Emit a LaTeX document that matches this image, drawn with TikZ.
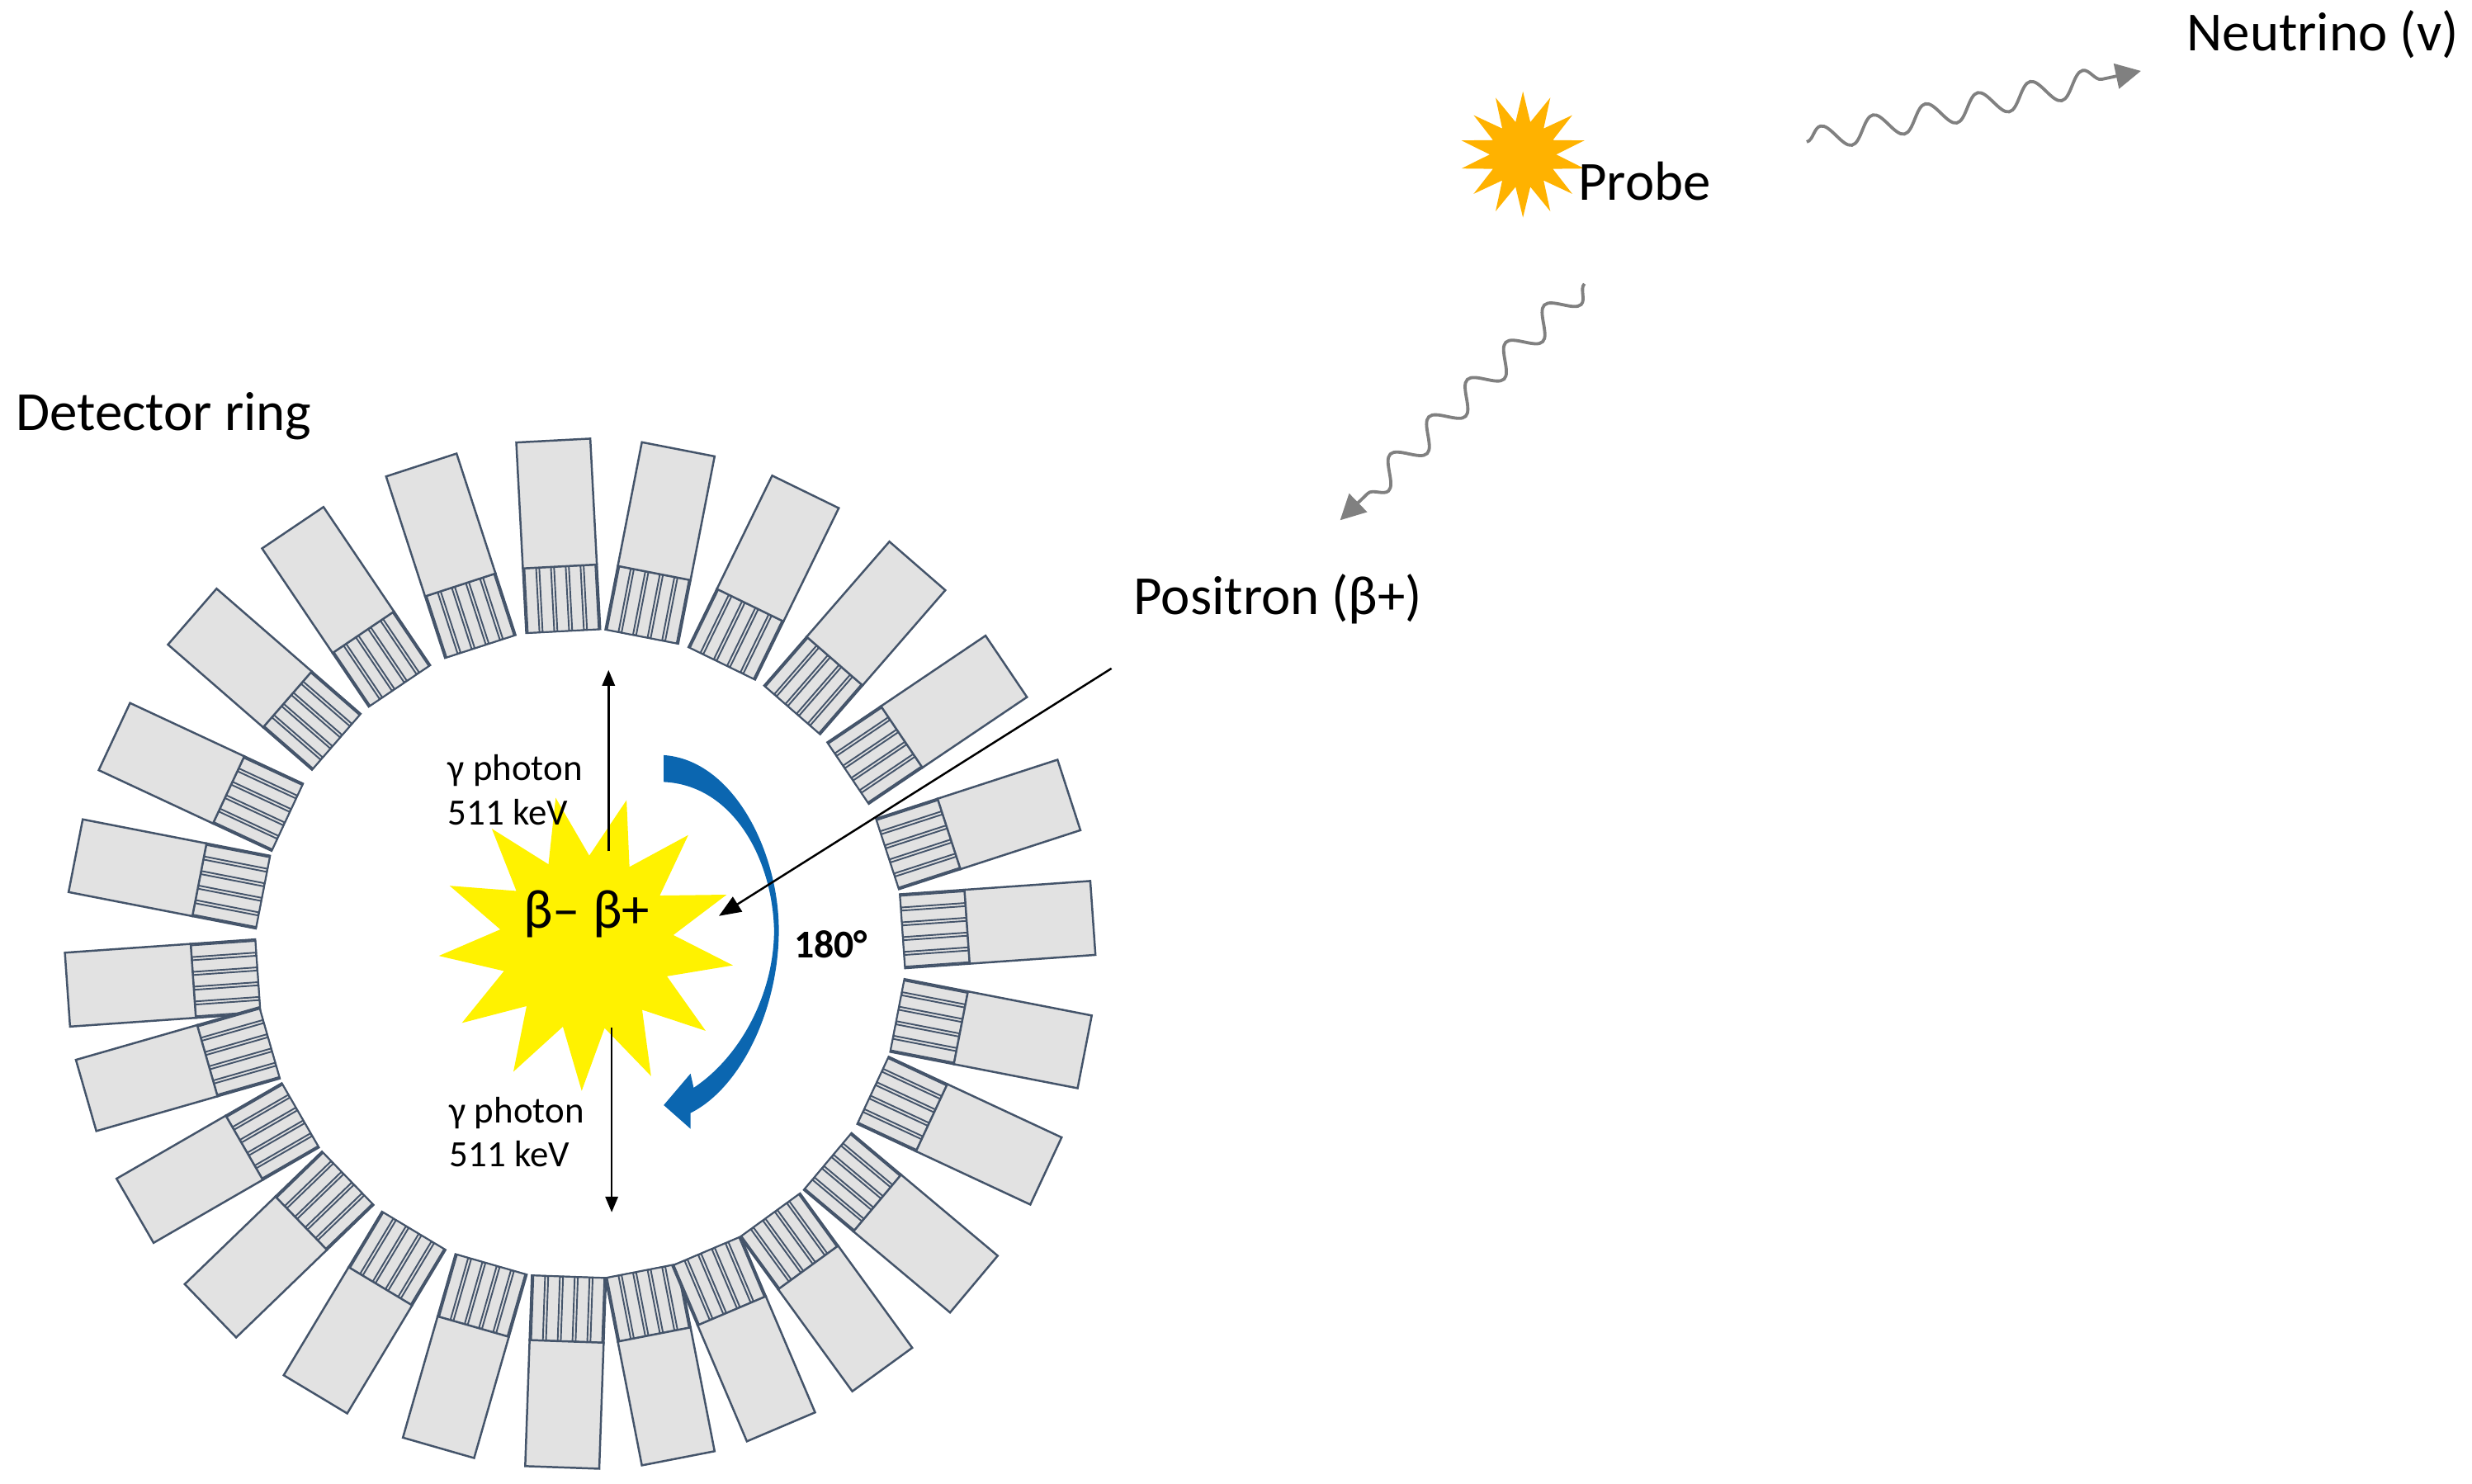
\documentclass[tikz,border=0pt]{standalone}
\usepackage{fontspec}
\setmainfont{Carlito}
\usetikzlibrary{shapes.geometric,decorations.pathmorphing,arrows.meta}
\definecolor{edge}{HTML}{44546A}
\definecolor{modfill}{HTML}{E2E2E2}
\definecolor{bluearr}{HTML}{0B66B0}
\definecolor{wave}{HTML}{808080}
\tikzset{
  mod/.style={draw=edge,fill=modfill,line width=1.3pt},
  lbl/.style={font=\fontsize{35}{40}\selectfont,inner sep=0pt},
  glbl/.style={font=\fontsize{23.5}{28}\selectfont,align=left,inner sep=0pt},
  wavy/.style={wave,line width=2pt,decorate,decoration={snake,amplitude=8pt,segment length=34pt,post length=14pt},-{Triangle[length=16pt,width=16pt]}}
}
\begin{document}
\begin{tikzpicture}[x=1pt,y=-1pt]
\useasboundingbox (0,0) rectangle (1568,941);
% detector ring
\foreach \a in {176,164,150,136,121,106,92,79,67,54,40,25,11,-4,-18,-34,-49,-64,-79,-93,-108,-124,-139,-155,-169}{
  \begin{scope}[shift={(368,605)},rotate=-\a]
    \draw[mod] (205,-23.5) rectangle (246,23.5);
    \foreach \k in {0,...,4}{
      \draw[mod,line width=1pt] (205,-23.5+\k*9.4+1) rectangle (246,-23.5+\k*9.4+8.4);
    }
    \draw[mod] (246,-23.5) rectangle (326,23.5);
  \end{scope}
}
\node[lbl,anchor=west] (ring) at (10,264) {Detector ring};
% star
\node[star,star points=13,star point ratio=1.7,minimum size=188pt,fill=yellow,inner sep=0pt,rotate=12] (burst) at (372,598) {};
\node[font=\fontsize{35}{38}\selectfont,inner sep=0pt] (beta) at (372,580) {β– β+};
% gamma arrows
\coordinate (gu0) at (386,540); \coordinate (gu1) at (386,425);
\coordinate (gd0) at (388,652); \coordinate (gd1) at (388,769);
\draw[line width=1.3pt,-{Triangle[length=10pt,width=8pt]}] (gu0) -- (gu1);
\draw[line width=1.3pt,-{Triangle[length=10pt,width=8pt]}] (gd0) -- (gd1);
\node[glbl,anchor=west] (g1) at (284,501) {γ photon\\511 keV};
\node[glbl,anchor=west] (g2) at (285,718) {γ photon\\511 keV};
% blue curved arrow
\fill[bluearr] (421,479) .. controls (465,482) and (494,540) .. (494,590)
  .. controls (494,640) and (470,690) .. (438,706) -- (438,716) -- (421,701) -- (438,681) -- (440,690)
  .. controls (470,670) and (491,630) .. (491,590)
  .. controls (490,545) and (465,498) .. (421,496) -- cycle;
\node[font=\bfseries\fontsize{25}{28}\selectfont,inner sep=0pt] (deg) at (527,599) {180°};
% positron
\node[lbl,anchor=west] (pos) at (719,380) {Positron (β+)};
\coordinate (pstart) at (705,424);
\coordinate (pend) at (456,581);
\draw[line width=1.3pt,-{Triangle[length=14pt,width=11pt]}] (pstart) -- (pend);
% probe
\node[star,star points=14,star point ratio=1.9,minimum size=80pt,fill=orange!60!yellow,inner sep=0pt] (probe) at (966,98) {};
\node[lbl,anchor=west] (ptxt) at (1001,115) {Probe};
\node[lbl,anchor=west] (neu) at (1387,22) {Neutrino (v)};
\coordinate (w1a) at (1146,90); \coordinate (w1b) at (1358,45);
\coordinate (w2a) at (1005,180); \coordinate (w2b) at (850,330);
\draw[wavy] (w1a) -- (w1b);
\draw[wavy] (w2a) -- (w2b);
\end{tikzpicture}
\end{document}
